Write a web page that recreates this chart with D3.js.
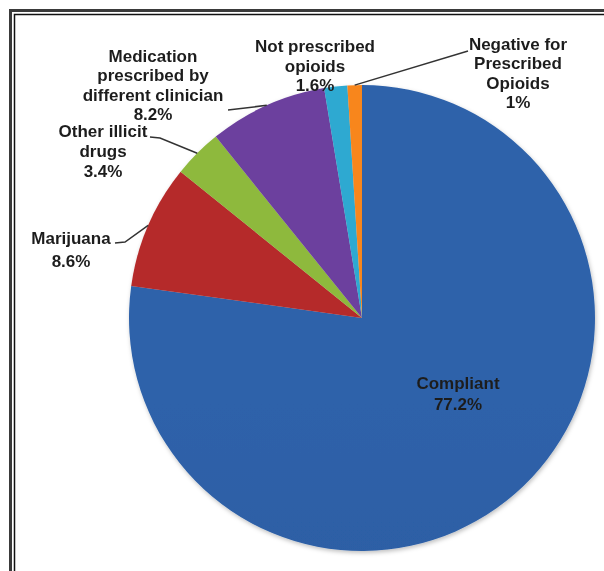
<!DOCTYPE html>
<html>
<head>
<meta charset="utf-8">
<script src="https://cdn.jsdelivr.net/npm/d3@7"></script>
<style>
  html, body { margin: 0; padding: 0; background: #ffffff; }
  svg { display: block; }
</style>
</head>
<body>
<svg id="chart" width="604" height="571"></svg>
<script>
const WIDTH = 604;
const HEIGHT = 571;

// data, clockwise from 12 o'clock
const categories = [
  'Compliant',
  'Marijuana',
  'Other illicit drugs',
  'Medication prescribed by different clinician',
  'Not prescribed opioids',
  'Negative for Prescribed Opioids',
];
const values = [77.2, 8.6, 3.4, 8.2, 1.6, 1];
const pctLabels = ['77.2%', '8.6%', '3.4%', '8.2%', '1.6%', '1%'];
const labelLines = [
  ['Compliant'],
  ['Marijuana'],
  ['Other illicit', 'drugs'],
  ['Medication', 'prescribed by', 'different clinician'],
  ['Not prescribed', 'opioids'],
  ['Negative for', 'Prescribed', 'Opioids'],
];
const colors = ['#2c5ea3', '#ad2829', '#88b13a', '#673d97', '#2ba2c8', '#ee801e'];

// layout of the labels (text centre, first baseline, line pitch) and leader starts
const CX = 362, CY = 318, R = 233;
const labelLayout = [
  { x: 458, y: 389, pitch: 21, leader: null },
  { x: 71, y: 244, pitch: 23, leader: [[115, 243], [125, 242]] },
  { x: 103, y: 137, pitch: 20, leader: [[150, 137], [160, 138]] },
  { x: 153, y: 62, pitch: 19.3, leader: [[228, 110]] },
  { x: 315, y: 52, pitch: 19.5, leader: null },
  { x: 518, y: 50, pitch: 19.3, leader: [[468, 51]] },
];

const svg = d3.select('#chart');

// frame: double rule on top and left only
svg.append('path')
  .attr('d', `M10.5,${HEIGHT} V10.5 H${WIDTH}`)
  .attr('fill', 'none')
  .attr('stroke', '#3a3a3a')
  .attr('stroke-width', 3);
svg.append('path')
  .attr('d', `M14.5,${HEIGHT} V14.5 H${WIDTH}`)
  .attr('fill', 'none')
  .attr('stroke', '#111')
  .attr('stroke-width', 1.5);

const defs = svg.append('defs');

const shadow = defs.append('filter')
  .attr('id', 'pieShadow')
  .attr('x', '-10%').attr('y', '-10%')
  .attr('width', '120%').attr('height', '120%');
shadow.append('feDropShadow')
  .attr('dx', 1).attr('dy', 2)
  .attr('stdDeviation', 2)
  .attr('flood-color', '#000')
  .attr('flood-opacity', 0.25);

const soft = defs.append('filter').attr('id', 'softText');
soft.append('feGaussianBlur').attr('stdDeviation', 0.35);

// vertical shading per slice colour
colors.forEach((c, i) => {
  const g = defs.append('linearGradient')
    .attr('id', `grad${i}`)
    .attr('gradientUnits', 'userSpaceOnUse')
    .attr('x1', 0).attr('y1', CY - R)
    .attr('x2', 0).attr('y2', CY + R);
  g.append('stop').attr('offset', 0).attr('stop-color', d3.color(c).brighter(0.12));
  g.append('stop').attr('offset', 1).attr('stop-color', d3.color(c).darker(0.15));
});

const pie = d3.pie().sort(null).value(d => d);
const arcs = pie(values);

const arc = d3.arc().innerRadius(0).outerRadius(R);
const edgeArc = d3.arc().innerRadius(R).outerRadius(R);

const g = svg.append('g').attr('transform', `translate(${CX},${CY})`);

g.append('g')
  .attr('filter', 'url(#pieShadow)')
  .selectAll('path.slice')
  .data(arcs)
  .join('path')
  .attr('class', 'slice')
  .attr('d', arc)
  .attr('fill', (d, i) => `url(#grad${i})`);

// leader lines to the slice mid-angle on the rim
arcs.forEach((d, i) => {
  const lay = labelLayout[i];
  if (!lay.leader) return;
  const [ex, ey] = edgeArc.centroid(d);
  const pts = lay.leader.concat([[CX + ex, CY + ey]]);
  svg.append('path')
    .attr('d', d3.line()(pts))
    .attr('fill', 'none')
    .attr('stroke', '#333')
    .attr('stroke-width', 1.5);
});

// labels
const labels = svg.append('g')
  .attr('font-family', '"Liberation Sans", Arial, sans-serif')
  .attr('font-weight', 'bold')
  .attr('font-size', '17px')
  .attr('fill', '#1e1e1e')
  .attr('text-anchor', 'middle')
  .attr('filter', 'url(#softText)');

categories.forEach((cat, i) => {
  const lay = labelLayout[i];
  const lines = labelLines[i].concat([pctLabels[i]]);
  const t = labels.append('text').attr('data-category', cat);
  lines.forEach((ln, j) => {
    t.append('tspan')
      .attr('x', lay.x)
      .attr('y', lay.y + j * lay.pitch)
      .text(ln);
  });
});
</script>
</body>
</html>
